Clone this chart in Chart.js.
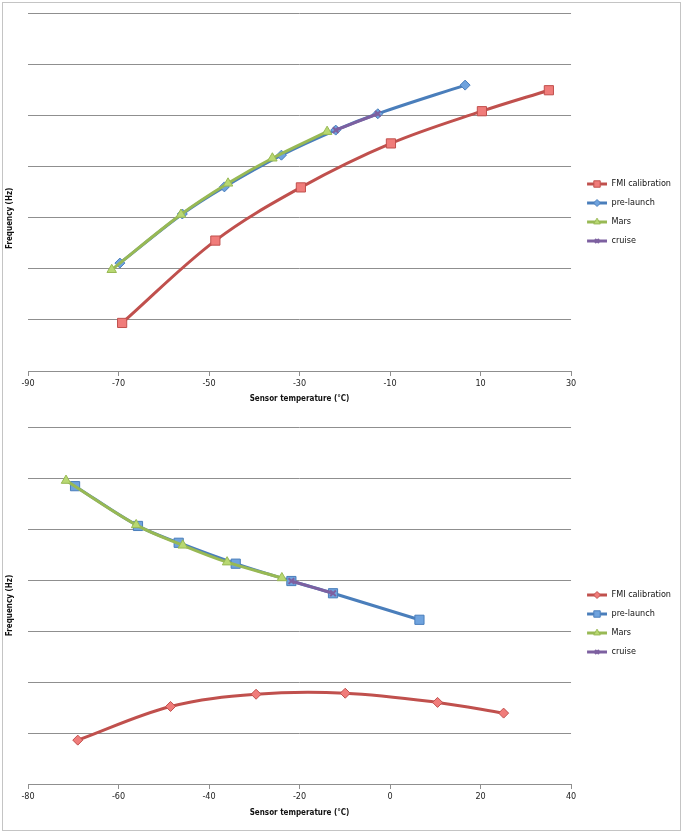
<!DOCTYPE html>
<html>
<head>
<meta charset="utf-8">
<script src="https://cdn.jsdelivr.net/npm/chart.js@4/dist/chart.umd.min.js"></script>
<style>
  body { margin: 0; background: #fff; }
  #page { position: relative; width: 682px; height: 832px; }
  #frame { position: absolute; left: 2px; top: 2px; width: 677px; height: 827px; border: 1px solid #c4c4c4; }
  #top { position: absolute; left: 0; top: 0; }
  #bottom { position: absolute; left: 0; top: 412px; }
</style>
</head>
<body>
<div id="page">
  <div id="frame"></div>
  <canvas id="top" width="682" height="412"></canvas>
  <canvas id="bottom" width="682" height="408"></canvas>
</div>
<script>
// series names (legend order)
const seriesNames = ["FMI calibration", "pre-launch", "Mars", "cruise"];

// upper chart: sensor temperature (°C) vs frequency (grid units, no labels in source)
const topFmiT = [-69.2, -48.6, -29.7, -9.8, 10.3, 25.1];
const topFmiF = [0.94, 2.55, 3.59, 4.45, 5.08, 5.49];
const topPreT = [-69.7, -55.9, -46.6, -34.0, -22.0, -12.7, 6.6];
const topPreF = [2.11, 3.07, 3.60, 4.22, 4.71, 5.03, 5.59];
const topMarsT = [-71.5, -56.2, -45.8, -36.0, -23.9];
const topMarsF = [1.98, 3.06, 3.67, 4.16, 4.68];
const topCruiseT = [-22.0, -12.7];
const topCruiseF = [4.71, 5.03];

// lower chart
const botFmiT = [-69.0, -48.5, -29.6, -9.9, 10.5, 25.1];
const botFmiF = [0.86, 1.52, 1.76, 1.78, 1.60, 1.39];
const botPreT = [-69.6, -55.7, -46.7, -34.1, -21.8, -12.6, 6.5];
const botPreF = [5.84, 5.06, 4.73, 4.32, 3.98, 3.74, 3.22];
const botMarsT = [-71.6, -56.1, -45.8, -36.0, -23.9];
const botMarsF = [5.95, 5.08, 4.68, 4.35, 4.04];
const botCruiseT = [-21.8, -12.6];
const botCruiseF = [3.98, 3.74];

// axis ranges / ticks
const topTempTicks = [-90, -70, -50, -30, -10, 10, 30];
const botTempTicks = [-80, -60, -40, -20, 0, 20, 40];
const freqGrid = [0, 1, 2, 3, 4, 5, 6, 7];

const FONT = '"DejaVu Sans Condensed", "Liberation Sans", sans-serif';
const colors = {
    red: { line: "#C0504D", fill: "#F07C7A" },
    blue: { line: "#4A7EBB", fill: "#6FA3DE" },
    green: { line: "#98B954", fill: "#B8D872" },
    purple: { line: "#7D60A0", fill: "#9C83C0" },
};

function pts(xs, ys) {
    return xs.map((x, i) => ({ x: x, y: ys[i] }));
}

// small line+marker sample for the legend
function legendIcon(c, style, radius) {
    const cv = document.createElement("canvas");
    cv.width = 26; cv.height = 12;
    const ctx = cv.getContext("2d");
    ctx.strokeStyle = c.line;
    ctx.lineWidth = 3;
    ctx.beginPath();
    ctx.moveTo(6, 6);
    ctx.lineTo(26, 6);
    ctx.stroke();
    ctx.fillStyle = style === "crossRot" ? c.line : c.fill;
    ctx.lineWidth = style === "crossRot" ? 2 : 1;
    Chart.helpers.drawPoint(ctx, { pointStyle: style, radius: radius, borderWidth: 1, rotation: 0 }, 16, 6);
    return cv;
}

function series(label, data, c, style, radius, order) {
    return {
        label: label,
        data: data,
        borderColor: c.line,
        backgroundColor: c.fill,
        pointBackgroundColor: style === "crossRot" ? c.line : c.fill,
        pointBorderColor: c.line,
        pointBorderWidth: style === "crossRot" ? 2 : 1,
        pointStyle: style,
        pointRadius: radius,
        borderWidth: 3,
        tension: 0.35,
        order: order,
        legendIcon: legendIcon(c, style, radius * 0.7),
    };
}

function makeChart(id, datasets, tempTicks, yTitle, axisHeight, titlePadBottom) {
    new Chart(document.getElementById(id), {
        type: "line",
        data: { datasets: datasets },
        options: {
            responsive: false,
            animation: false,
            layout: { padding: { top: id === "top" ? 13 : 15, right: 1, left: 0, bottom: 0 } },
            plugins: {
                tooltip: { enabled: false },
                legend: {
                    position: "right",
                    labels: {
                        color: "#111",
                        font: { family: FONT, size: 9 },
                        usePointStyle: true,
                        pointStyleWidth: 26,
                        padding: 10,
                        generateLabels: (chart) => chart.data.datasets.map((ds, i) => ({
                            text: ds.label,
                            pointStyle: ds.legendIcon,
                            fillStyle: ds.backgroundColor,
                            strokeStyle: ds.borderColor,
                            lineWidth: 0,
                            fontColor: "#111",
                            hidden: false,
                            datasetIndex: i,
                        })),
                    },
                },
            },
            scales: {
                x: {
                    type: "linear",
                    min: tempTicks[0],
                    max: tempTicks[tempTicks.length - 1],
                    afterBuildTicks: (scale) => { scale.ticks = tempTicks.map(v => ({ value: v })); },
                    ticks: { color: "#222", font: { family: FONT, size: 9 }, padding: 2, maxRotation: 0 },
                    grid: { drawOnChartArea: false, drawTicks: true, tickLength: 5, color: "#8f8f8f" },
                    border: { display: true, color: "#8f8f8f", width: 1 },
                    title: {
                        display: true,
                        text: "Sensor temperature (°C)",
                        color: "#111",
                        font: { family: FONT, size: 8, weight: "bold" },
                        padding: { top: 0, bottom: titlePadBottom },
                    },
                    afterFit: (scale) => { scale.height = axisHeight; },
                },
                y: {
                    min: freqGrid[0],
                    max: freqGrid[freqGrid.length - 1],
                    afterBuildTicks: (scale) => { scale.ticks = freqGrid.map(v => ({ value: v })); },
                    ticks: { display: false },
                    grid: { color: "#8f8f8f", drawTicks: false, tickLength: 0 },
                    border: { display: false },
                    title: {
                        display: true,
                        text: yTitle,
                        color: "#111",
                        font: { family: FONT, size: 8, weight: "bold" },
                        padding: { top: 5, bottom: 0 },
                    },
                    afterFit: (scale) => { scale.width = 28; },
                },
            },
        },
    });
}

// the upper chart's axis title sits lower than centre in the source, hence the trailing spaces
makeChart("top", [
    series(seriesNames[0], pts(topFmiT, topFmiF), colors.red, "rect", 6.5, 4),
    series(seriesNames[1], pts(topPreT, topPreF), colors.blue, "rectRot", 5, 3),
    series(seriesNames[2], pts(topMarsT, topMarsF), colors.green, "triangle", 5.5, 2),
    series(seriesNames[3], pts(topCruiseT, topCruiseF), colors.purple, "crossRot", 4, 1),
], topTempTicks, "Frequency (Hz)" + " ".repeat(21), 41, 8);

makeChart("bottom", [
    series(seriesNames[0], pts(botFmiT, botFmiF), colors.red, "rectRot", 5, 4),
    series(seriesNames[1], pts(botPreT, botPreF), colors.blue, "rect", 6.5, 3),
    series(seriesNames[2], pts(botMarsT, botMarsF), colors.green, "triangle", 5.5, 2),
    series(seriesNames[3], pts(botCruiseT, botCruiseF), colors.purple, "crossRot", 4, 1),
], botTempTicks, "Frequency (Hz)", 36, 2);
</script>
</body>
</html>
